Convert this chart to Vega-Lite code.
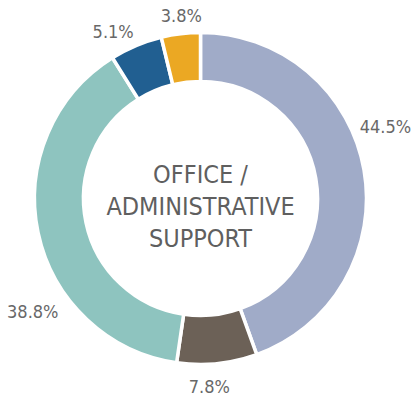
{
  "$schema": "https://vega.github.io/schema/vega-lite/v6.json",
  "width": 417,
  "height": 403,
  "autosize": {"type": "fit", "contains": "padding"},
  "padding": {"left": 0, "right": 13, "top": 0, "bottom": 6},
  "background": "white",
  "config": {"view": {"stroke": null}},
  "layer": [
    {
      "data": {"values": [
        {"category": "A", "value": 44.5, "label": "44.5%", "order": 1},
        {"category": "B", "value": 7.8, "label": "7.8%", "order": 2},
        {"category": "C", "value": 38.8, "label": "38.8%", "order": 3},
        {"category": "D", "value": 5.1, "label": "5.1%", "order": 4},
        {"category": "E", "value": 3.8, "label": "3.8%", "order": 5}
      ]},
      "encoding": {
        "theta": {"field": "value", "type": "quantitative", "stack": true},
        "order": {"field": "order", "type": "quantitative"}
      },
      "layer": [
        {"mark": {"type": "arc", "outerRadius": 166, "innerRadius": 117, "stroke": "white", "strokeWidth": 3.5},
         "encoding": {
           "color": {
             "field": "category", "type": "nominal", "legend": null,
             "scale": {"domain": ["A", "B", "C", "D", "E"], "range": ["#A0ABC8", "#6C6157", "#8EC4BF", "#215F91", "#EBA823"]}
           }
         }},
        {"mark": {"type": "text", "radius": 190,
                  "thetaOffset": {"expr": "datum.category === 'A' ? -0.192 : datum.category === 'B' ? 0.054 : datum.category === 'C' ? -0.391 : datum.category === 'D' ? -0.087 : 0.014"},
                  "radiusOffset": {"expr": "datum.category === 'A' ? 8 : datum.category === 'C' ? 13 : datum.category === 'D' ? -3 : datum.category === 'E' ? -7 : 0"},
                  "font": "Liberation Sans Narrow, DejaVu Sans Condensed, Roboto", "fontSize": 18, "align": "center", "baseline": "middle", "fill": "#686868"},
         "encoding": {"text": {"field": "label"}}}
      ]
    },
    {
      "data": {"values": [{"title": "OFFICE /\nADMINISTRATIVE\nSUPPORT"}]},
      "mark": {"type": "text", "lineBreak": "\n", "font": "Liberation Sans Narrow, DejaVu Sans Condensed, Roboto", "fontSize": 25, "lineHeight": 32, "fill": "#5f5f5f", "align": "center", "baseline": "middle", "dy": -24},
      "encoding": {"text": {"field": "title"}}
    }
  ]
}
